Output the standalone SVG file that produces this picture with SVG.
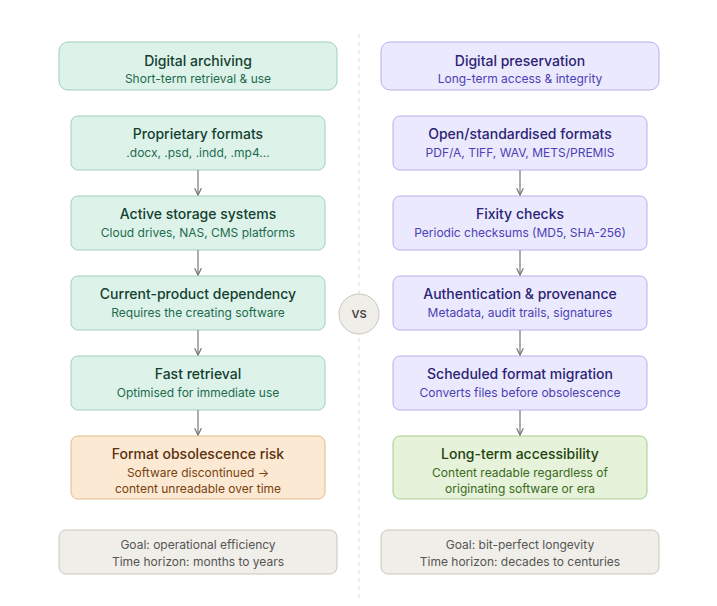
<svg xmlns="http://www.w3.org/2000/svg" width="717" height="606" viewBox="0 0 717 606">
<defs>
<marker id="ah" viewBox="0 0 10 10" refX="9" refY="5" markerWidth="7" markerHeight="7" orient="auto"><path d="M1,1 L9,5 L1,9" fill="none" stroke="#777" stroke-width="1.5"/></marker>
<style>
text{font-family:Inter,"Noto Sans",sans-serif;text-anchor:middle}
.t{font-size:14px;font-weight:500}
.s{font-size:12px}
.g rect{fill:#ddf3ea;stroke:#9fcfb9}
.g .t{fill:#14402f}.g .s{fill:#1d6a4c}
.p rect{fill:#ebe9fd;stroke:#b7b0ec}
.p .t{fill:#2c2475}.p .s{fill:#4a3fb5}
.o rect{fill:#fbe9d4;stroke:#e3b98a}
.o .t{fill:#5a300d}.o .s{fill:#7a420f}
.l rect{fill:#e6f2da;stroke:#a8cc8c}
.l .t{fill:#24440f}.l .s{fill:#3a6a1c}
.n rect{fill:#f0eee8;stroke:#c9c6bd}
.n .s{fill:#555}
rect{stroke-width:1}
.c line{stroke:#777;stroke-width:1.2;marker-end:url(#ah)}
</style>
</defs>
<rect width="717" height="606" fill="#fff"/>
<line x1="359" y1="34" x2="359" y2="600" stroke="#ddd" stroke-dasharray="4 4"/>
<g id="h-left" class="g"><rect x="59" y="42" width="278" height="48" rx="9"/><text class="t" x="198" y="66">Digital archiving</text><text class="s" x="198" y="83">Short-term retrieval &amp; use</text></g>
<g id="h-right" class="p"><rect x="381" y="42" width="278" height="48" rx="9"/><text class="t" x="520" y="66">Digital preservation</text><text class="s" x="520" y="83">Long-term access &amp; integrity</text></g>
<g id="l1" class="g"><rect x="71" y="116" width="254" height="54" rx="7"/><text class="t" x="198" y="139">Proprietary formats</text><text class="s" x="198" y="157">.docx, .psd, .indd, .mp4…</text></g>
<g id="l2" class="g"><rect x="71" y="196" width="254" height="54" rx="7"/><text class="t" x="198" y="219">Active storage systems</text><text class="s" x="198" y="237">Cloud drives, NAS, CMS platforms</text></g>
<g id="l3" class="g"><rect x="71" y="276" width="254" height="54" rx="7"/><text class="t" x="198" y="299">Current-product dependency</text><text class="s" x="198" y="317">Requires the creating software</text></g>
<g id="l4" class="g"><rect x="71" y="356" width="254" height="54" rx="7"/><text class="t" x="198" y="379">Fast retrieval</text><text class="s" x="198" y="397">Optimised for immediate use</text></g>
<g id="l5" class="o"><rect x="71" y="436" width="254" height="63" rx="7"/><text class="t" x="198" y="459">Format obsolescence risk</text><text class="s" x="198" y="477">Software discontinued →</text><text class="s" x="198" y="493">content unreadable over time</text></g>
<g id="r1" class="p"><rect x="393" y="116" width="254" height="54" rx="7"/><text class="t" x="520" y="139">Open/standardised formats</text><text class="s" x="520" y="157">PDF/A, TIFF, WAV, METS/PREMIS</text></g>
<g id="r2" class="p"><rect x="393" y="196" width="254" height="54" rx="7"/><text class="t" x="520" y="219">Fixity checks</text><text class="s" x="520" y="237">Periodic checksums (MD5, SHA-256)</text></g>
<g id="r3" class="p"><rect x="393" y="276" width="254" height="54" rx="7"/><text class="t" x="520" y="299">Authentication &amp; provenance</text><text class="s" x="520" y="317">Metadata, audit trails, signatures</text></g>
<g id="r4" class="p"><rect x="393" y="356" width="254" height="54" rx="7"/><text class="t" x="520" y="379">Scheduled format migration</text><text class="s" x="520" y="397">Converts files before obsolescence</text></g>
<g id="r5" class="l"><rect x="393" y="436" width="254" height="63" rx="7"/><text class="t" x="520" y="459">Long-term accessibility</text><text class="s" x="520" y="477">Content readable regardless of</text><text class="s" x="520" y="493">originating software or era</text></g>
<g id="f-left" class="n"><rect x="59" y="530" width="278" height="44" rx="7"/><text class="s" x="198" y="549">Goal: operational efficiency</text><text class="s" x="198" y="566">Time horizon: months to years</text></g>
<g id="f-right" class="n"><rect x="381" y="530" width="278" height="44" rx="7"/><text class="s" x="520" y="549">Goal: bit-perfect longevity</text><text class="s" x="520" y="566">Time horizon: decades to centuries</text></g>
<g id="vs"><circle cx="359" cy="314" r="20" fill="#f0eee8" stroke="#c9c6bd"/><text x="359" y="318" style="font-size:11px;font-weight:600;fill:#444">VS</text></g>
<g id="connectors" class="c">
<line x1="198" y1="170" x2="198" y2="195"/><line x1="198" y1="250" x2="198" y2="275"/><line x1="198" y1="330" x2="198" y2="355"/><line x1="198" y1="410" x2="198" y2="435"/>
<line x1="520" y1="170" x2="520" y2="195"/><line x1="520" y1="250" x2="520" y2="275"/><line x1="520" y1="330" x2="520" y2="355"/><line x1="520" y1="410" x2="520" y2="435"/>
</g>
</svg>
